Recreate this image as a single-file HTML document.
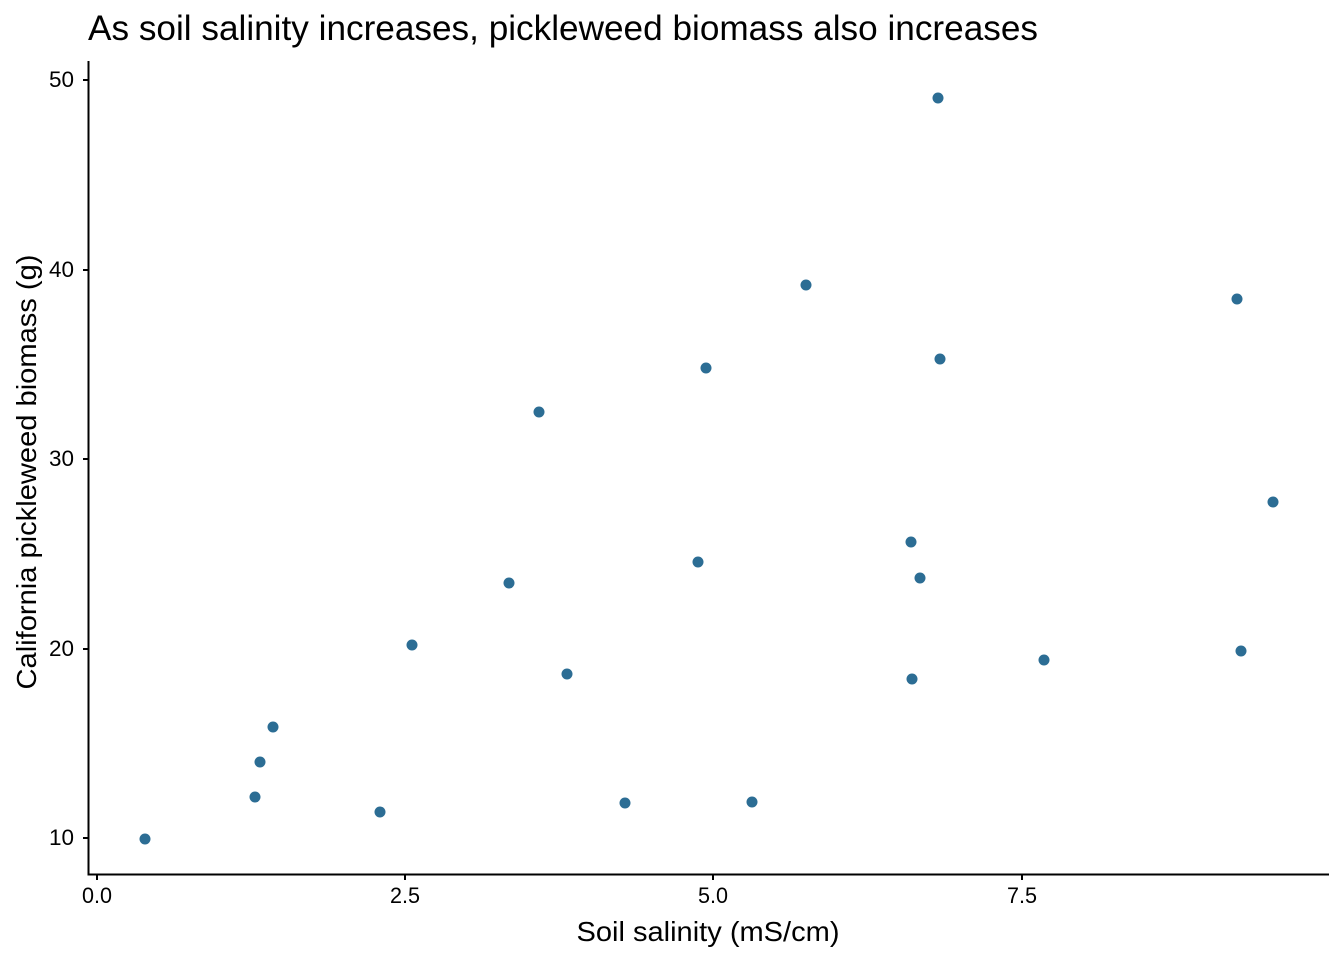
<!DOCTYPE html>
<html><head><meta charset="utf-8"><style>
html,body{margin:0;padding:0;background:#fff;}
svg{display:block;}
text{font-family:"Liberation Sans",Arial,sans-serif;fill:#000;}
</style></head><body>
<svg width="1344" height="960" viewBox="0 0 1344 960" xmlns="http://www.w3.org/2000/svg">
<rect width="1344" height="960" fill="#fff"/>
<text x="88" y="40" font-size="35" textLength="950" lengthAdjust="spacingAndGlyphs">As soil salinity increases, pickleweed biomass also increases</text>
<g stroke="#000" stroke-width="2">
<line x1="88.5" y1="61" x2="88.5" y2="875"/>
<line x1="87.5" y1="874.5" x2="1329" y2="874.5"/>
<line x1="83" y1="80" x2="88" y2="80"/>
<line x1="83" y1="270" x2="88" y2="270"/>
<line x1="83" y1="459" x2="88" y2="459"/>
<line x1="83" y1="649" x2="88" y2="649"/>
<line x1="83" y1="838" x2="88" y2="838"/>
<line x1="97" y1="875" x2="97" y2="880"/>
<line x1="405" y1="875" x2="405" y2="880"/>
<line x1="713" y1="875" x2="713" y2="880"/>
<line x1="1022" y1="875" x2="1022" y2="880"/>
</g>
<g font-size="22" fill="#1a1a1a">
<text x="49" y="87" textLength="25" lengthAdjust="spacingAndGlyphs">50</text>
<text x="49" y="277" textLength="25" lengthAdjust="spacingAndGlyphs">40</text>
<text x="49" y="466" textLength="25" lengthAdjust="spacingAndGlyphs">30</text>
<text x="49" y="656" textLength="25" lengthAdjust="spacingAndGlyphs">20</text>
<text x="49" y="845" textLength="25" lengthAdjust="spacingAndGlyphs">10</text>
<text x="82" y="903" textLength="30" lengthAdjust="spacingAndGlyphs">0.0</text>
<text x="390" y="903" textLength="30" lengthAdjust="spacingAndGlyphs">2.5</text>
<text x="698" y="903" textLength="30" lengthAdjust="spacingAndGlyphs">5.0</text>
<text x="1007" y="903" textLength="30" lengthAdjust="spacingAndGlyphs">7.5</text>
</g>
<text x="708" y="941" font-size="28" text-anchor="middle" textLength="263" lengthAdjust="spacingAndGlyphs">Soil salinity (mS/cm)</text>
<text transform="translate(36,472) rotate(-90)" font-size="28" text-anchor="middle" textLength="435" lengthAdjust="spacingAndGlyphs">California pickleweed biomass (g)</text>
<g fill="#2c6d94">
<circle cx="938" cy="98" r="5.5"/><circle cx="806" cy="285" r="5.5"/><circle cx="1237" cy="299" r="5.5"/>
<circle cx="940" cy="359" r="5.5"/><circle cx="706" cy="368" r="5.5"/><circle cx="539" cy="412" r="5.5"/>
<circle cx="1273" cy="502" r="5.5"/><circle cx="911" cy="542" r="5.5"/><circle cx="698" cy="562" r="5.5"/>
<circle cx="920" cy="578" r="5.5"/><circle cx="509" cy="583" r="5.5"/><circle cx="412" cy="645" r="5.5"/>
<circle cx="1241" cy="651" r="5.5"/><circle cx="1044" cy="660" r="5.5"/><circle cx="567" cy="674" r="5.5"/>
<circle cx="912" cy="679" r="5.5"/><circle cx="273" cy="727" r="5.5"/><circle cx="260" cy="762" r="5.5"/>
<circle cx="255" cy="797" r="5.5"/><circle cx="380" cy="812" r="5.5"/><circle cx="625" cy="803" r="5.5"/>
<circle cx="752" cy="802" r="5.5"/><circle cx="145" cy="839" r="5.5"/>
</g>
</svg>
</body></html>
